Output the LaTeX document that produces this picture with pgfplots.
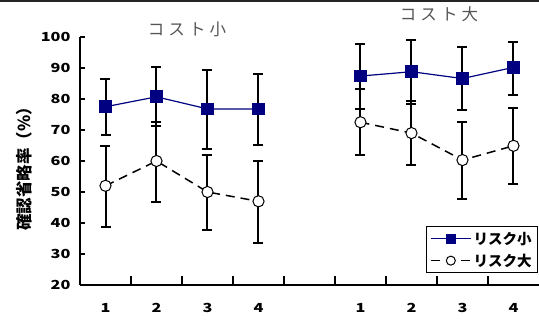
\documentclass[border=0pt]{standalone}
\usepackage{fontspec}
\setmainfont{Noto Sans CJK JP}
\newfontfamily\ttl{Noto Sans CJK JP}[LetterSpace=25]
\newfontfamily\tickf{Noto Sans CJK JP}[FakeStretch=1.3]
\usepackage{pgfplots}
\pgfplotsset{compat=1.18}
\usepackage{pgfplotstable}
\definecolor{navy}{RGB}{0,0,128}
\definecolor{ttlgray}{RGB}{85,85,85}

\pgfplotstableread{
x y ep em
0 77.5 9.0 9.1
1 80.7 9.5 9.5
2 76.8 12.4 13.0
3 76.8 11.4 11.8
4 nan 0 0
5 87.4 10.3 10.5
6 88.8 10.3 10.3
7 86.6 10.3 10.0
8 90.2 8.3 8.8
}\lowrisk

\pgfplotstableread{
x y ep em
0 52.0 12.9 13.2
1 60.0 12.6 13.3
2 50.0 11.9 12.2
3 47.0 13.1 13.6
4 nan 0 0
5 72.5 10.6 10.7
6 69.0 10.4 10.4
7 60.3 12.3 12.6
8 64.9 12.1 12.3
}\highrisk

\begin{document}
\begin{tikzpicture}
\begin{axis}[
  at={(80pt,35pt)}, anchor=south west,
  scale only axis, width=459pt, height=248pt,
  xmin=-0.5, xmax=8.5, ymin=20, ymax=100,
  unbounded coords=jump,
  axis x line=bottom, axis y line=left,
  axis line style={-, line width=1.6pt, black},
  tick align=inside,
  xtick={0,1,2,3,5,6,7,8}, xticklabels={1,2,3,4,1,2,3,4},
  xtick style={draw=none},
  extra x ticks={0.5,1.5,2.5,3.5,4.5,5.5,6.5,7.5},
  extra x tick labels={},
  extra x tick style={xtick style={draw=black, line width=1.5pt}, major tick length=9pt},
  ytick={20,30,...,100},
  ytick style={line width=1.5pt, black},
  major tick length=5pt,
  /pgf/number format/assume math mode=true,
  ticklabel style={font=\tickf\bfseries\fontsize{12.5}{12.5}\selectfont},
  xticklabel style={yshift=-15pt},
  yticklabel style={xshift=-6pt},
  legend style={at={(0.998,0.048)}, anchor=south east, draw=black, line width=1pt,
     font=\bfseries\fontsize{14.5}{17}\selectfont, inner xsep=4pt, inner ysep=3pt, row sep=4pt},
  legend cell align=left,
  legend image code/.code={\draw[mark repeat=2, mark phase=2, mark size=4.5pt] plot coordinates {(0pt,0pt) (20pt,0pt) (40pt,0pt)};},
]
\addplot[navy, line width=1.2pt, mark=square*, mark size=5.8pt, mark options={solid, fill=navy, draw=navy},
  error bars/.cd, y dir=both, y explicit,
  error bar style={black, line width=2pt, solid},
  error mark options={black, line width=2pt, mark size=5pt, rotate=90}]
  table[x=x, y=y, y error plus=ep, y error minus=em]{\lowrisk};
\addlegendentry{リスク小}
\addplot[black, line width=1.5pt, dash pattern=on 9pt off 6pt, mark=*, mark size=5.6pt,
  mark options={solid, fill=white, draw=black, line width=1pt},
  error bars/.cd, y dir=both, y explicit,
  error bar style={black, line width=2pt, solid},
  error mark options={black, line width=2pt, mark size=5pt, rotate=90}]
  table[x=x, y=y, y error plus=ep, y error minus=em]{\highrisk};
\addlegendentry{リスク大}
\end{axis}
\node[font=\ttl\fontsize{16.5}{16.5}\selectfont, text=ttlgray] at (187pt,291pt) {コスト小};
\node[font=\ttl\fontsize{16.5}{16.5}\selectfont, text=ttlgray] at (439pt,306pt) {コスト大};
\node[rotate=90, font=\bfseries\fontsize{16.5}{16.5}\selectfont] at (24pt,155pt) {確認省略率（\%）};
\fill[black!85] (0pt,317.5pt) rectangle (539pt,320pt);
\pgfresetboundingbox
\path (0pt,0pt) rectangle (539pt,320pt);
\end{tikzpicture}
\end{document}
